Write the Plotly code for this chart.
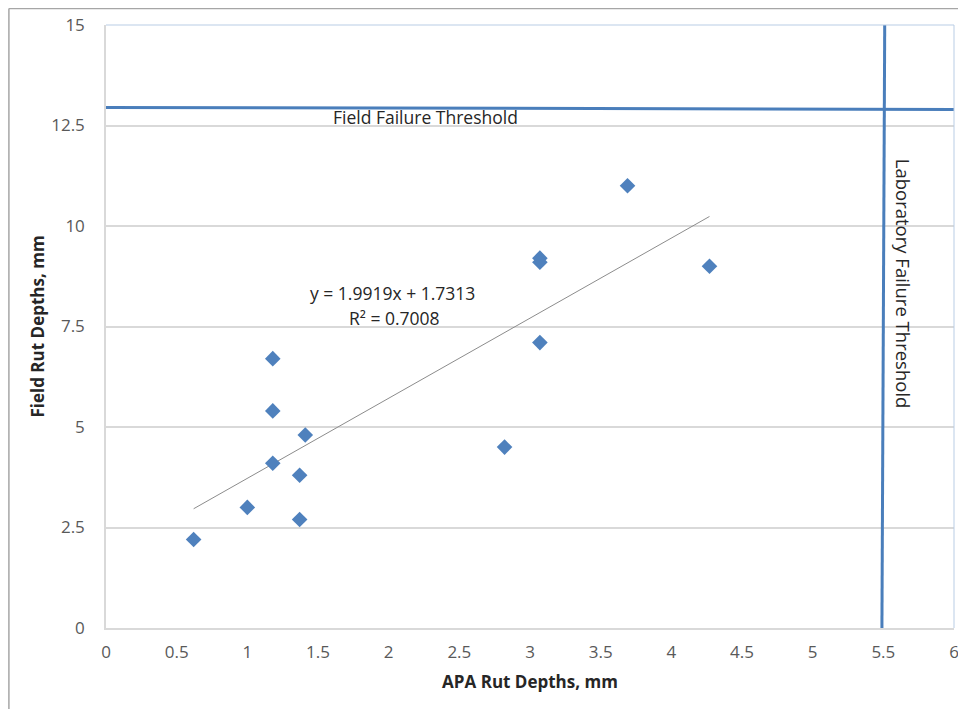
import plotly.graph_objects as go

# Data
apa_rut = [0.62, 1.00, 1.18, 1.18, 1.18, 1.41, 1.37, 1.37, 2.82, 3.07, 3.07, 3.07, 3.69, 4.27]
field_rut = [2.2, 3.0, 6.7, 5.4, 4.1, 4.8, 3.8, 2.7, 4.5, 9.2, 9.1, 7.1, 11.0, 9.0]

trend_slope = 1.9919
trend_intercept = 1.7313
r_squared = 0.7008

field_threshold_x = [-0.02, 6.0]
field_threshold_y = [12.95, 12.90]
lab_threshold_x = [5.51, 5.49]
lab_threshold_y = [15.2, 0.0]

x_ticks = [0, 0.5, 1, 1.5, 2, 2.5, 3, 3.5, 4, 4.5, 5, 5.5, 6]
y_ticks = [0, 2.5, 5, 7.5, 10, 12.5, 15]
y_tick_text = ["0", "2.5", "5", "7.5", "10", "12.5", "15"]

FONT = "'Open Sans', 'Noto Sans', sans-serif"
BLUE = "#4a7ebb"
TXT = "#262626"

x_min, x_max = min(apa_rut), max(apa_rut)
trend_x = [x_min, x_max]
trend_y = [trend_slope * v + trend_intercept for v in trend_x]

fig = go.Figure()

fig.add_trace(go.Scatter(
    x=field_threshold_x, y=field_threshold_y, mode="lines",
    line=dict(color=BLUE, width=3), cliponaxis=False, hoverinfo="skip"))
fig.add_trace(go.Scatter(
    x=lab_threshold_x, y=lab_threshold_y, mode="lines",
    line=dict(color=BLUE, width=3), cliponaxis=False, hoverinfo="skip"))
fig.add_trace(go.Scatter(
    x=trend_x, y=trend_y, mode="lines",
    line=dict(color="#8c8c8c", width=1)))
fig.add_trace(go.Scatter(
    x=apa_rut, y=field_rut, mode="markers",
    marker=dict(symbol="diamond", size=12, color="#4f81bd")))

fig.add_annotation(x=2.03, y=8.33, xref="x", yref="y",
                   text=f"y = {trend_slope}x + {trend_intercept}",
                   showarrow=False, font=dict(family=FONT, size=17.5, color=TXT))
fig.add_annotation(x=2.04, y=7.71, xref="x", yref="y",
                   text=f"R² = {r_squared}",
                   showarrow=False, font=dict(family=FONT, size=17.5, color=TXT))
fig.add_annotation(x=2.264, y=12.71, xref="x", yref="y",
                   text="Field Failure Threshold",
                   showarrow=False, font=dict(family=FONT, size=17.5, color=TXT))
fig.add_annotation(x=5.64, y=8.56, xref="x", yref="y",
                   text="Laboratory Failure Threshold", textangle=90,
                   showarrow=False, font=dict(family=FONT, size=18.5, color=TXT))

# plot-area border (top / right light blue)
fig.add_shape(type="line", xref="paper", yref="paper", x0=0, x1=1, y0=1, y1=1,
              line=dict(color="#b9cde5", width=1))
fig.add_shape(type="line", xref="paper", yref="paper", x0=1, x1=1, y0=0, y1=1,
              line=dict(color="#b9cde5", width=1))
# outer chart border (top and left edges of the figure)
fig.add_shape(type="line", xref="paper", yref="paper", x0=-0.1145, x1=1.2, y0=1.0273, y1=1.0273,
              line=dict(color="#a6a6a6", width=1.5))
fig.add_shape(type="line", xref="paper", yref="paper", x0=-0.1145, x1=-0.1145, y0=1.0273, y1=-0.2,
              line=dict(color="#a6a6a6", width=1.5))

# page body adds an 8px offset; size the figure so the plot area lands where the reference has it
fig.update_layout(
    width=958, height=701,
    margin=dict(l=98, r=12, t=17, b=81, autoexpand=False),
    paper_bgcolor="white", plot_bgcolor="white",
    showlegend=False,
    font=dict(family=FONT, size=17, color="#595959"),
    xaxis=dict(range=[0, 6], tickvals=x_ticks, showgrid=False, zeroline=False,
               showline=True, linecolor="#d9d9d9", linewidth=1.5,
               ticks="", ticklabelstandoff=8, automargin=False,
               tickfont=dict(family=FONT, size=17, color="#595959"),
               title=dict(text="<b>APA Rut Depths, mm</b>", standoff=14,
                          font=dict(family=FONT, size=17, color=TXT))),
    yaxis=dict(range=[0, 15], tickvals=y_ticks, ticktext=y_tick_text,
               showgrid=True, gridcolor="#d9d9d9", gridwidth=1.5, zeroline=False,
               showline=True, linecolor="#d9d9d9", linewidth=1.5,
               ticks="", ticklabelstandoff=16, automargin=False,
               tickfont=dict(family=FONT, size=17, color="#595959"),
               title=dict(text="<b>Field Rut Depths, mm</b>", standoff=2,
                          font=dict(family=FONT, size=17, color=TXT))),
)

fig.write_html("out.html")
